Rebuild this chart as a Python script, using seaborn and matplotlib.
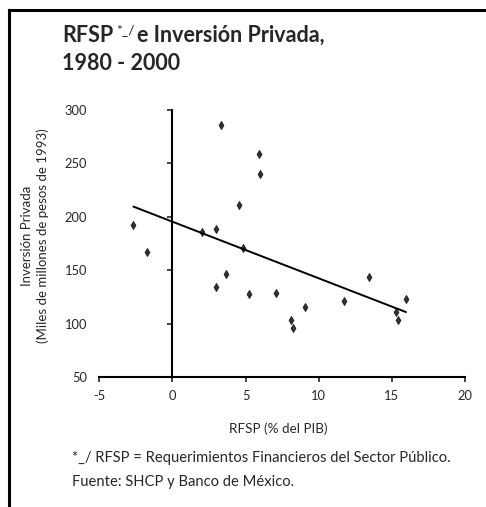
import numpy as np
import pandas as pd
import seaborn as sns
import matplotlib.pyplot as plt
from matplotlib.lines import Line2D

# RFSP (% del PIB) vs Inversion Privada, 1980 - 2000
rfsp = [-2.67, -1.71, 2.01, 2.97, 3.29, 3.01, 3.65, 4.58, 4.79, 5.20, 5.95,
        5.98, 7.11, 8.12, 8.21, 9.03, 11.72, 13.41, 15.25, 15.42, 15.96]
inversion = [192.2, 167.2, 185.9, 188.2, 286.0, 134.4, 146.0, 210.7, 171.0, 127.8, 259.0,
             240.3, 128.7, 103.4, 95.9, 115.6, 121.6, 144.1, 110.9, 103.4, 122.8]
x_ticks = [-5, 0, 5, 10, 15, 20]
y_ticks = [50, 100, 150, 200, 250, 300]

df = pd.DataFrame({'rfsp': rfsp, 'inversion': inversion})

sns.set_style('white')
plt.rcParams['font.family'] = ['Lato', 'DejaVu Sans']
plt.rcParams['axes.unicode_minus'] = False
small = 9.3

fig = plt.figure(figsize=(4.86, 5.07), dpi=100)
ax = fig.add_axes([0.2043, 0.2564, 0.9568 - 0.2043, 0.783 - 0.2564])

sns.regplot(data=df, x='rfsp', y='inversion', ax=ax, ci=None, truncate=True,
            marker='d', color='black',
            scatter_kws={'s': 17, 'edgecolor': 'black', 'linewidths': 0.6, 'clip_on': False},
            line_kws={'linewidth': 1.4, 'color': 'black'})

ax.set_xlim(-5, 20)
ax.set_ylim(50, 300)
ax.set_xticks(x_ticks)
ax.set_yticks(y_ticks)
ax.set_xlabel('')
ax.set_ylabel('')

for s in ['top', 'right']:
    ax.spines[s].set_visible(False)
ax.spines['left'].set_position(('data', 0))
for s in ['left', 'bottom']:
    ax.spines[s].set_linewidth(1.5)
    ax.spines[s].set_color('black')

ax.tick_params(axis='x', direction='out', length=3.5, width=1.2, bottom=True, pad=6,
               labelsize=small)
ax.tick_params(axis='y', direction='out', length=3.5, width=1.2, left=True, pad=58,
               labelsize=small)

fig.text(278 / 486, 1 - 429 / 507, 'RFSP (% del PIB)', ha='center', va='center',
         fontsize=small + 0.4)
fig.text(35 / 486, 1 - 236 / 507, 'Inversión Privada\n(Miles de millones de pesos de 1993)',
         rotation=90, ha='center', va='center', multialignment='center',
         fontsize=small + 0.2, linespacing=1.35)

# title with superscript mark
t1 = fig.text(62 / 486, 1 - 42 / 507, 'RFSP', fontsize=15.5, fontweight='bold',
              ha='left', va='baseline')
ax.annotate('*_/', xy=(1, 1), xycoords=t1, xytext=(2, 1), textcoords='offset points',
            ha='left', va='top', fontsize=10, annotation_clip=False)
ax.annotate('e Inversión Privada,', xy=(1, 0), xycoords=t1, xytext=(17, 0),
            textcoords='offset points', ha='left', va='bottom', fontsize=15.5,
            fontweight='bold', annotation_clip=False)
fig.text(62 / 486, 1 - 70 / 507, '1980 - 2000', fontsize=15.5, fontweight='bold',
         ha='left', va='baseline')

fig.text(72 / 486, 1 - 462 / 507, '*_/ RFSP = Requerimientos Financieros del Sector Público.',
         fontsize=10.6, ha='left', va='baseline')
fig.text(72 / 486, 1 - 486 / 507, 'Fuente: SHCP y Banco de México.',
         fontsize=10.6, ha='left', va='baseline')

# outer frame (left and top)
fig.add_artist(Line2D([9 / 486, 9 / 486], [0, 1 - 9.5 / 507], color='black', linewidth=2.2,
                      transform=fig.transFigure, solid_capstyle='projecting'))
fig.add_artist(Line2D([9 / 486, 1], [1 - 9.5 / 507, 1 - 9.5 / 507], color='black', linewidth=2.2,
                      transform=fig.transFigure, solid_capstyle='projecting'))

fig.savefig('out.png', dpi=100, facecolor='white')
